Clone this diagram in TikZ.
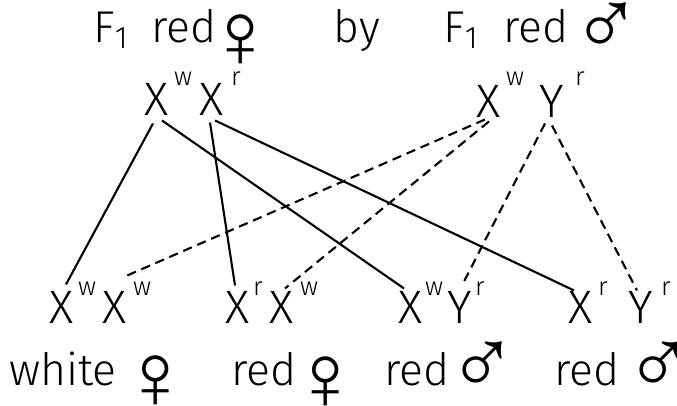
\documentclass[tikz,border=0pt]{standalone}
\usepackage{fontspec}
\setmainfont{Fira Sans}[UprightFont={* Light}]
\newfontfamily\symfont{Liberation Sans}
\usetikzlibrary{calc}
\tikzset{
  gene/.style={inner sep=0pt, anchor=base, font=\fontsize{20}{20}\selectfont},
  allele/.style={inner sep=0pt, anchor=base, font=\fontsize{11}{11}\selectfont},
  word/.style={inner sep=0pt, anchor=base, font=\fontsize{19}{19}\selectfont},
  sex/.style={inner sep=0pt, anchor=center, font=\symfont\fontsize{40}{40}\selectfont},
  fromdam/.style={line width=0.9pt},
  fromsire/.style={line width=0.9pt, dash pattern=on 4pt off 2.5pt},
}
\begin{document}
\begin{tikzpicture}[x=0.015cm,y=-0.015cm]
\useasboundingbox (0,0) rectangle (677,405);

% the cross
\node[word, anchor=base west] (damF) at (93,42) {F\textsubscript{1}};
\node[word] (damred) at (184,42) {red};
\node[sex] (damsex) at (241,41) {♀};
\node[word] (by) at (357,42) {by};
\node[word, anchor=base west] (sireF) at (443,42) {F\textsubscript{1}};
\node[word] (sirered) at (536,42) {red};
\node[sex] (siresex) at (607,29) {♂};

% parents
\node[gene] (mw) at (157,115) {X};
\node[allele] at (183,85) {w};
\node[gene] (mr) at (212,115) {X};
\node[allele] at (236,85) {r};
\node[gene] (fw) at (489,117) {X};
\node[allele] at (515,85) {w};
\node[gene] (fy) at (552,117) {Y};
\node[allele] at (580,85) {r};

% offspring
\node[gene] (c1) at (62,323) {X};
\node[allele] at (87,295) {w};
\node[gene] (c2) at (115,323) {X};
\node[allele] at (142,295) {w};
\node[gene] (c3) at (238,323) {X};
\node[allele] at (258,295) {r};
\node[gene] (c4) at (282,323) {X};
\node[allele] at (309,295) {w};
\node[gene] (c5) at (411,323) {X};
\node[allele] at (434,295) {w};
\node[gene] (c6) at (460,323) {Y};
\node[allele] at (480,295) {r};
\node[gene] (c7) at (581,323) {X};
\node[allele] at (603,295) {r};
\node[gene] (c8) at (641,323) {Y};
\node[allele] at (666,295) {r};

\node[word] (white) at (63,385) {white};
\node[sex] (s1) at (156,382) {♀};
\node[word] (red2) at (264,385) {red};
\node[sex] (s2) at (326,383) {♀};
\node[word] (red3) at (417,385) {red};
\node[sex] (s3) at (483,368) {♂};
\node[word] (red4) at (587,385) {red};
\node[sex] (s4) at (660,368) {♂};

\draw[fromdam] ($(mw.south)+(-4,8)$) -- ($(c1.north)+(4,-6)$);
\draw[fromdam] ($(mw.south)+(5,5)$) -- ($(c5.north)+(-7,-2)$);
\draw[fromdam] ($(mr.south)+(-2,7)$) -- ($(c3.north)+(-3,-5)$);
\draw[fromdam] ($(mr.south)+(3,5)$) -- ($(c7.north)+(-7,0)$);

\draw[fromsire] ($(fw.south)+(-4,2)$) -- ($(c2.north)+(10,-14)$);
\draw[fromsire] ($(fw.south)+(0,4)$) -- ($(c4.north)+(3,-2)$);
\draw[fromsire] ($(fy.south)+(-7,6)$) -- ($(c6.north)+(3,-7)$);
\draw[fromsire] ($(fy.south)+(0,8)$) -- ($(c8.north)+(-4,0)$);
\end{tikzpicture}
\end{document}
